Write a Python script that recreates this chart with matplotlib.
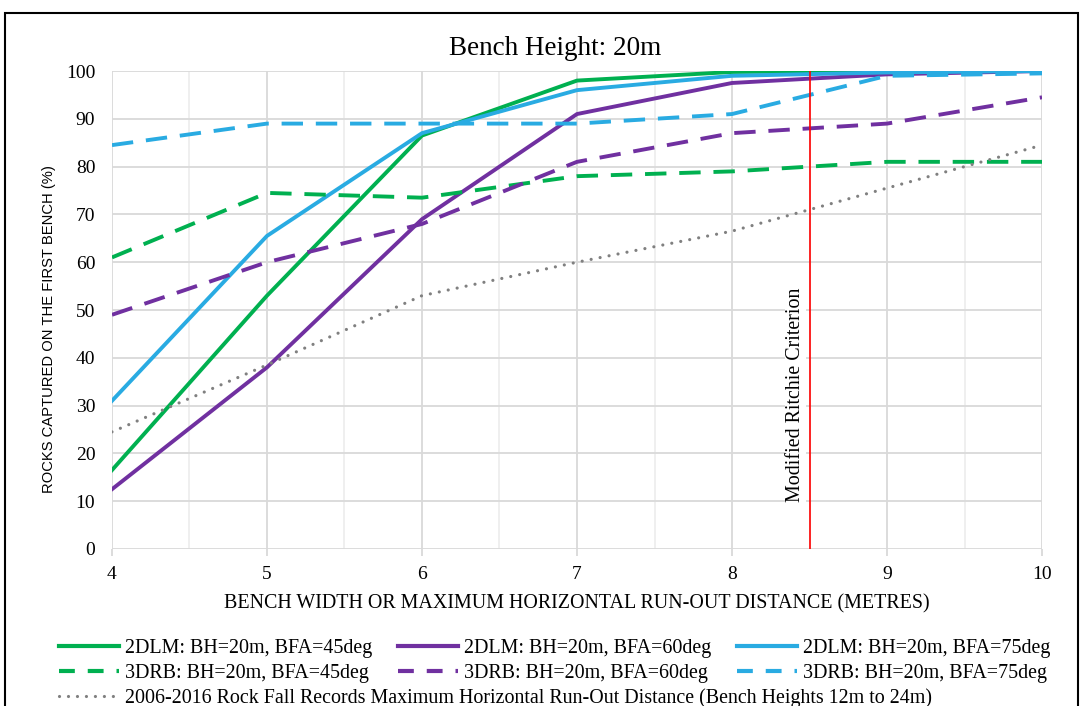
import matplotlib
matplotlib.use("Agg")
import matplotlib.pyplot as plt
from matplotlib.patches import Rectangle
from matplotlib.lines import Line2D

# data
bench_width = [4, 5, 6, 7, 8, 9, 10]
dlm_45 = [16.5, 53, 86.5, 98, 99.8, 100, 100]
dlm_60 = [12.5, 38, 69, 91, 97.5, 99.3, 100]
dlm_75 = [31, 65.5, 87, 96, 99, 99.7, 100]
drb_45 = [61, 74.5, 73.5, 78, 79, 81, 81]
drb_60 = [49, 60, 68, 81, 87, 89, 94.5]
drb_75 = [84.5, 89, 89, 89, 91, 99, 99.5]
records = [24.5, 38.5, 53, 60, 66.5, 75.5, 84.5]
ritchie_x = 8.5

labels = ['2DLM: BH=20m, BFA=45deg', '2DLM: BH=20m, BFA=60deg', '2DLM: BH=20m, BFA=75deg',
          '3DRB: BH=20m, BFA=45deg', '3DRB: BH=20m, BFA=60deg', '3DRB: BH=20m, BFA=75deg']
rec_label = '2006-2016 Rock Fall Records Maximum Horizontal Run-Out Distance (Bench Heights 12m to 24m)'

green = '#00B050'
purple = '#7030A0'
blue = '#29ABE2'
gray = '#808080'
serif = 'Liberation Serif'

fig = plt.figure(figsize=(10.85, 7.06), dpi=100)
ax = fig.add_axes([0.1032, 0.2224, 0.8572, 0.677])

dash = (0, (5.5, 3.3))
lw = 2.8
ax.plot(bench_width, dlm_45, color=green, lw=lw, zorder=3)
ax.plot(bench_width, dlm_60, color=purple, lw=lw, zorder=3)
ax.plot(bench_width, dlm_75, color=blue, lw=lw, zorder=3)
ax.plot(bench_width, drb_45, color=green, lw=lw, ls=dash, zorder=3)
ax.plot(bench_width, drb_60, color=purple, lw=lw, ls=dash, zorder=3)
ax.plot(bench_width, drb_75, color=blue, lw=lw, ls=dash, zorder=3)
ax.plot(bench_width, records, color=gray, lw=2.3, ls=(0, (0.01, 2.85)),
        dash_capstyle='round', zorder=3)

ax.plot([ritchie_x, ritchie_x], [0, 100], color='red', lw=1.2, zorder=4)
ax.text(8.41, 32.2, 'Modified Ritchie Criterion', rotation=90, ha='center', va='center',
        fontsize=14.4, family=serif, zorder=2,
        bbox=dict(facecolor='white', edgecolor='none', pad=1))

ax.set_xlim(4, 10)
ax.set_ylim(0, 100)
ax.set_xticks(range(4, 11))
ax.set_xticks([4.5, 5.5, 6.5, 7.5, 8.5, 9.5], minor=True)
ax.set_yticks(range(0, 101, 10))
ax.grid(True, which='major', color='#D9D9D9', lw=1.3, zorder=0)
ax.grid(True, which='minor', axis='x', color='#EEEEEE', lw=1.3, zorder=0)
ax.set_axisbelow(True)
for s in ax.spines.values():
    s.set_visible(False)
ax.tick_params(axis='x', which='major', length=5, width=1.3, color='#D9D9D9', pad=7)
ax.tick_params(axis='x', which='minor', length=0)
ax.tick_params(axis='y', length=0, pad=12)
for t in ax.get_xticklabels() + ax.get_yticklabels():
    t.set_family(serif)
    t.set_fontsize(14)

ax.set_xlabel('BENCH WIDTH OR MAXIMUM HORIZONTAL RUN-OUT DISTANCE (METRES)',
              family=serif, fontsize=14.4, labelpad=8)
ax.set_ylabel('ROCKS CAPTURED ON THE FIRST BENCH (%)', family='Liberation Sans',
              fontsize=10.6)
ax.yaxis.set_label_coords(-0.060, 0.46)
fig.text(0.512, 0.932, 'Bench Height: 20m', ha='center', va='center',
         family=serif, fontsize=19.5)

# legend
hlw = 3.0
handles = [Line2D([], [], color=green, lw=hlw), Line2D([], [], color=purple, lw=hlw),
           Line2D([], [], color=blue, lw=hlw),
           Line2D([], [], color=green, lw=hlw, ls=(0, (3.8, 3.1))),
           Line2D([], [], color=purple, lw=hlw, ls=(0, (3.8, 3.1))),
           Line2D([], [], color=blue, lw=hlw, ls=(0, (3.8, 3.1)))]
order = [0, 3, 1, 4, 2, 5]
leg = fig.legend([handles[i] for i in order], [labels[i] for i in order], ncol=3,
                 loc='center left', bbox_to_anchor=(0.054, 0.0634), frameon=False,
                 prop={'family': serif, 'size': 14.4}, handlelength=3.0,
                 handletextpad=0.3, columnspacing=1.3, labelspacing=0.3,
                 borderaxespad=0, borderpad=0)
rec_handle = Line2D([], [], color=gray, lw=2.3, ls=(0, (0.01, 2.8)), dash_capstyle='round')
fig.legend([rec_handle], [rec_label], loc='center left', bbox_to_anchor=(0.054, 0.0115),
           frameon=False, prop={'family': serif, 'size': 14.4}, handlelength=3.0,
           handletextpad=0.3, borderaxespad=0, borderpad=0)

fig.patches.append(Rectangle((0.0046, -0.05), 0.989, 1.0316, transform=fig.transFigure,
                             fill=False, edgecolor='black', lw=1.5))

fig.savefig('out.png', dpi=100)
